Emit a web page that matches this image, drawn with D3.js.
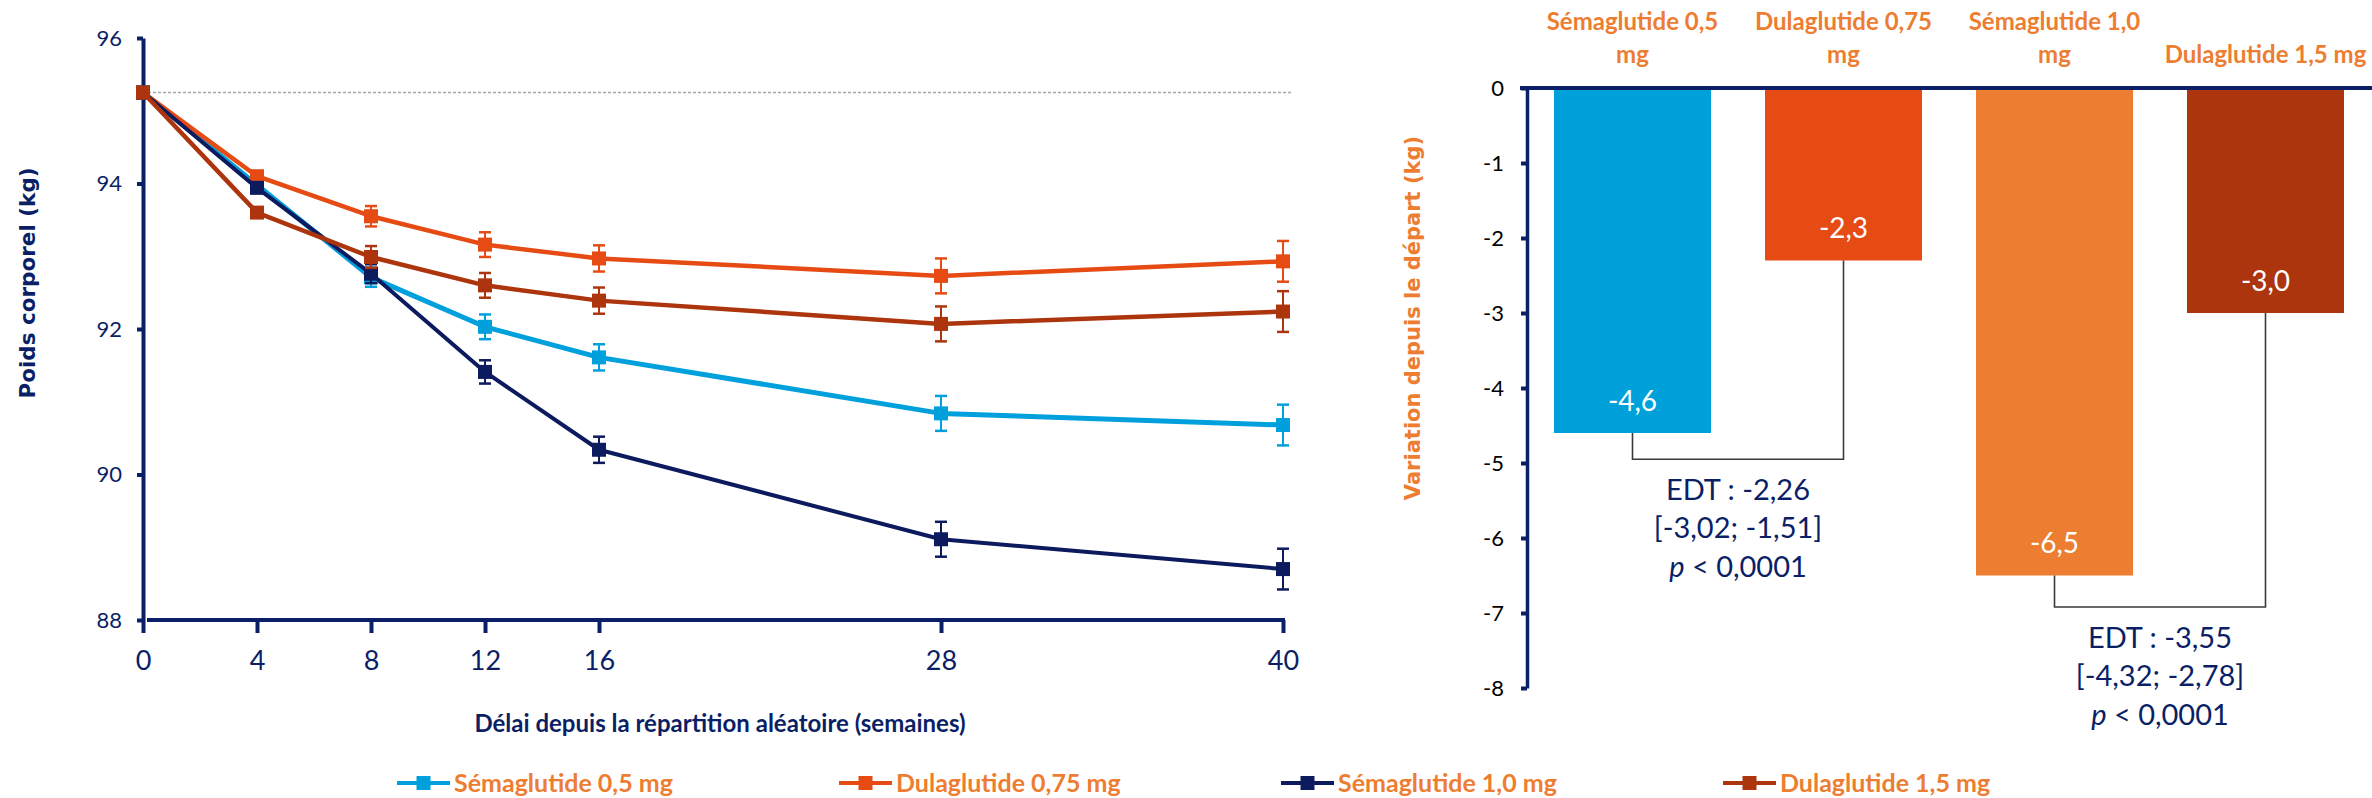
<!DOCTYPE html>
<html>
<head>
<meta charset="utf-8">
<script src="https://cdn.jsdelivr.net/npm/d3@7"></script>
<style>
  html, body { margin: 0; padding: 0; background: #ffffff; }
  svg { display: block; }
</style>
</head>
<body>
<svg id="chart" width="2372" height="798"></svg>
<script>
// ---- Data -------------------------------------------------------------
const weeks = [0, 4, 8, 12, 16, 28, 40];
const seriesNames = ["Sémaglutide 0,5 mg", "Dulaglutide 0,75 mg", "Sémaglutide 1,0 mg", "Dulaglutide 1,5 mg"];

// mean body weight (kg) per visit
const sema05  = [95.25, 93.98, 92.71, 92.03, 91.61, 90.84, 90.68];
const dula075 = [95.25, 94.10, 93.55, 93.16, 92.97, 92.73, 92.93];
const sema10  = [95.25, 93.94, 92.76, 91.41, 90.34, 89.11, 88.70];
const dula15  = [95.25, 93.60, 92.99, 92.60, 92.39, 92.07, 92.24];

// standard error half-widths (kg)
const sema05Err  = [0, 0.05, 0.13, 0.17, 0.18, 0.24, 0.28];
const dula075Err = [0, 0.06, 0.14, 0.17, 0.18, 0.24, 0.28];
const sema10Err  = [0, 0.06, 0.13, 0.16, 0.18, 0.24, 0.28];
const dula15Err  = [0, 0.06, 0.15, 0.17, 0.18, 0.24, 0.28];

const baselineWeight = 95.25;
const weightTicks = [88, 90, 92, 94, 96];

// change from baseline at week 40 (kg)
const changeValues = [-4.6, -2.3, -6.5, -3.0];
const changeTicks = [0, -1, -2, -3, -4, -5, -6, -7, -8];
const categoryLines = [["Sémaglutide 0,5", "mg"], ["Dulaglutide 0,75", "mg"], ["Sémaglutide 1,0", "mg"], ["Dulaglutide 1,5 mg"]];

// treatment differences
const comparisons = [
  { a: 0, b: 1, level: -4.95, edt: "EDT : -2,26", ci: "[-3,02; -1,51]", p: "< 0,0001" },
  { a: 2, b: 3, level: -6.92, edt: "EDT : -3,55", ci: "[-4,32; -2,78]", p: "< 0,0001" }
];

// ---- Styles -----------------------------------------------------------
const NAVY = "#0B1F66";
const ORANGE_TXT = "#ED7D31";
const lineColors = ["#00A0DC", "#E54B12", "#0C1A5E", "#AD350D"];
const barColors  = ["#00A0DA", "#E54B12", "#ED7D31", "#AD350D"];
const SANS = "'Lato', sans-serif";
const WIDE = "'DejaVu Sans', sans-serif";

// French number formatting with a plain hyphen for negatives
const fr = d3.formatLocale({ decimal: ",", thousands: " ", grouping: [3], currency: ["", " €"], minus: "-" });
const fmtInt = fr.format("d");
const fmt1 = fr.format(".1f");

const svg = d3.select("#chart");

// ---- Left panel: body weight over time -------------------------------
const x = d3.scaleLinear().domain([0, 40]).range([143, 1283]);
const y = d3.scaleLinear().domain([88, 96]).range([620, 38]);

// baseline reference
svg.append("line")
  .attr("x1", x(0)).attr("x2", x(40) + 10)
  .attr("y1", y(baselineWeight)).attr("y2", y(baselineWeight))
  .attr("stroke", "#A8A8A8").attr("stroke-width", 1.5)
  .attr("stroke-dasharray", "3,2");

// y axis
const yAxis = svg.append("g")
  .attr("transform", `translate(${x(0)},0)`)
  .call(d3.axisLeft(y).tickValues(weightTicks).tickFormat(fmtInt)
    .tickSize(6).tickSizeOuter(0).tickPadding(15));
yAxis.select(".domain").attr("stroke", NAVY).attr("stroke-width", 4);
yAxis.selectAll(".tick line").attr("stroke", NAVY).attr("stroke-width", 4);
yAxis.selectAll(".tick text").attr("fill", NAVY).attr("font-family", SANS).attr("font-size", 22);

// x axis
const xAxis = svg.append("g")
  .attr("transform", `translate(0,${y(88)})`)
  .call(d3.axisBottom(x).tickValues(weeks).tickFormat(fmtInt).tickSize(13).tickSizeOuter(0).tickPadding(0));
xAxis.select(".domain").attr("stroke", NAVY).attr("stroke-width", 4)
  .attr("d", `M${x(0) + 4},0H${x(40) + 2}`);
xAxis.selectAll(".tick line").attr("stroke", NAVY).attr("stroke-width", 4);
xAxis.selectAll(".tick text").attr("fill", NAVY).attr("font-family", SANS).attr("font-size", 27)
  .attr("y", 41).attr("dy", "0.35em");

// axis titles
svg.append("text")
  .attr("transform", `translate(27,283) rotate(-90)`)
  .attr("text-anchor", "middle").attr("dy", "0.35em")
  .attr("font-family", WIDE).attr("font-weight", "bold").attr("font-size", 21.5)
  .attr("fill", NAVY).text("Poids corporel (kg)");

svg.append("text")
  .attr("x", 720).attr("y", 724).attr("dy", "0.35em")
  .attr("text-anchor", "middle")
  .attr("font-family", SANS).attr("font-weight", "bold").attr("font-size", 24)
  .attr("fill", NAVY).text("Délai depuis la répartition aléatoire (semaines)");

// series
const series = [
  { name: seriesNames[0], values: sema05,  err: sema05Err,  color: lineColors[0], width: 5 },
  { name: seriesNames[1], values: dula075, err: dula075Err, color: lineColors[1], width: 4.5 },
  { name: seriesNames[2], values: sema10,  err: sema10Err,  color: lineColors[2], width: 4 },
  { name: seriesNames[3], values: dula15,  err: dula15Err,  color: lineColors[3], width: 4.5 }
];

const line = d3.line().x((d, i) => x(weeks[i])).y(d => y(d));

series.forEach(s => {
  const g = svg.append("g");
  g.append("path")
    .attr("d", line(s.values))
    .attr("fill", "none").attr("stroke", s.color)
    .attr("stroke-width", s.width).attr("stroke-linejoin", "round");

  const pts = s.values.map((v, i) => ({ w: weeks[i], v, e: s.err[i] }));
  const eb = g.selectAll(".eb").data(pts.filter(p => p.e > 0)).join("g");
  eb.append("line")
    .attr("x1", p => x(p.w)).attr("x2", p => x(p.w))
    .attr("y1", p => y(p.v + p.e)).attr("y2", p => y(p.v - p.e))
    .attr("stroke", s.color).attr("stroke-width", 2);
  [1, -1].forEach(sign => {
    eb.append("line")
      .attr("x1", p => x(p.w) - 6).attr("x2", p => x(p.w) + 6)
      .attr("y1", p => y(p.v + sign * p.e)).attr("y2", p => y(p.v + sign * p.e))
      .attr("stroke", s.color).attr("stroke-width", 2.5);
  });

  g.selectAll("rect").data(pts).join("rect")
    .attr("x", p => x(p.w) - 7).attr("y", p => y(p.v) - 7)
    .attr("width", 14).attr("height", 14)
    .attr("fill", s.color);
});

// legend
const legend = svg.append("g");
series.forEach((s, i) => {
  const lg = legend.append("g").attr("transform", `translate(${397 + i * 442},783)`);
  lg.append("line").attr("x1", 0).attr("x2", 53).attr("y1", 0).attr("y2", 0)
    .attr("stroke", s.color).attr("stroke-width", 4);
  lg.append("rect").attr("x", 19.5).attr("y", -7).attr("width", 14).attr("height", 14)
    .attr("fill", s.color);
  lg.append("text").attr("x", 57).attr("y", 0).attr("dy", "0.35em")
    .attr("font-family", SANS).attr("font-weight", "bold").attr("font-size", 25)
    .attr("fill", ORANGE_TXT).text(s.name);
});

// ---- Right panel: change from baseline -------------------------------
const xb = d3.scaleBand().domain(seriesNames).range([1527, 2371])
  .paddingInner(0.256).paddingOuter(0.128);
const yb = d3.scaleLinear().domain([-8, 0]).range([688, 88]);

svg.append("text")
  .attr("transform", `translate(1413,318) rotate(-90)`)
  .attr("text-anchor", "middle").attr("dy", "0.35em")
  .attr("font-family", WIDE).attr("font-weight", "bold").attr("font-size", 21)
  .attr("fill", ORANGE_TXT).text("Variation depuis le départ (kg)");

svg.append("g").selectAll("rect")
  .data(seriesNames.map((n, i) => ({ n, v: changeValues[i], c: barColors[i] })))
  .join("rect")
  .attr("x", d => xb(d.n)).attr("width", xb.bandwidth())
  .attr("y", yb(0)).attr("height", d => yb(d.v) - yb(0))
  .attr("fill", d => d.c);

svg.append("g").selectAll("text")
  .data(seriesNames.map((n, i) => ({ n, v: changeValues[i] })))
  .join("text")
  .attr("x", d => xb(d.n) + xb.bandwidth() / 2)
  .attr("y", d => yb(d.v) - 32).attr("dy", "0.35em")
  .attr("text-anchor", "middle")
  .attr("font-family", SANS).attr("font-size", 28).attr("fill", "#ffffff")
  .text(d => fmt1(d.v));

// y axis
const ybAxis = svg.append("g")
  .attr("transform", `translate(1527,0)`)
  .call(d3.axisLeft(yb).tickValues(changeTicks).tickFormat(fmtInt)
    .tickSize(6).tickSizeOuter(0).tickPadding(17));
ybAxis.select(".domain").attr("stroke", NAVY).attr("stroke-width", 3.5);
ybAxis.selectAll(".tick line").attr("stroke", NAVY).attr("stroke-width", 4);
ybAxis.selectAll(".tick text").attr("fill", "#000000").attr("font-family", SANS).attr("font-size", 22);

// zero line across the top
svg.append("line")
  .attr("x1", 1520).attr("x2", 2372).attr("y1", yb(0)).attr("y2", yb(0))
  .attr("stroke", NAVY).attr("stroke-width", 4);

// category labels
seriesNames.forEach((n, i) => {
  const lines = categoryLines[i];
  const t = svg.append("text")
    .attr("text-anchor", "middle")
    .attr("font-family", SANS).attr("font-weight", "bold").attr("font-size", 24)
    .attr("fill", ORANGE_TXT);
  lines.forEach((ln, k) => {
    const row = 2 - lines.length + k;
    t.append("tspan")
      .attr("x", xb(n) + xb.bandwidth() / 2)
      .attr("y", 22 + row * 33).attr("dy", "0.35em")
      .text(ln);
  });
});

// comparison brackets and statistics
comparisons.forEach(c => {
  const xa = xb(seriesNames[c.a]) + xb.bandwidth() / 2;
  const xc = xb(seriesNames[c.b]) + xb.bandwidth() / 2;
  const yl = yb(c.level);
  svg.append("path")
    .attr("d", `M${xa},${yb(changeValues[c.a])}V${yl}H${xc}V${yb(changeValues[c.b])}`)
    .attr("fill", "none").attr("stroke", "#3A3A3A").attr("stroke-width", 1.6);
  const cx = (xa + xc) / 2;
  const t = svg.append("text")
    .attr("text-anchor", "middle")
    .attr("font-family", SANS).attr("font-size", 29).attr("fill", NAVY);
  t.append("tspan").attr("x", cx).attr("y", yl + 31).attr("dy", "0.35em").text(c.edt);
  t.append("tspan").attr("x", cx).attr("y", yl + 69).attr("dy", "0.35em").text(c.ci);
  const pl = t.append("tspan").attr("x", cx).attr("y", yl + 108).attr("dy", "0.35em");
  pl.append("tspan").attr("font-style", "italic").text("p");
  pl.append("tspan").text(" " + c.p);
});
</script>
</body>
</html>
